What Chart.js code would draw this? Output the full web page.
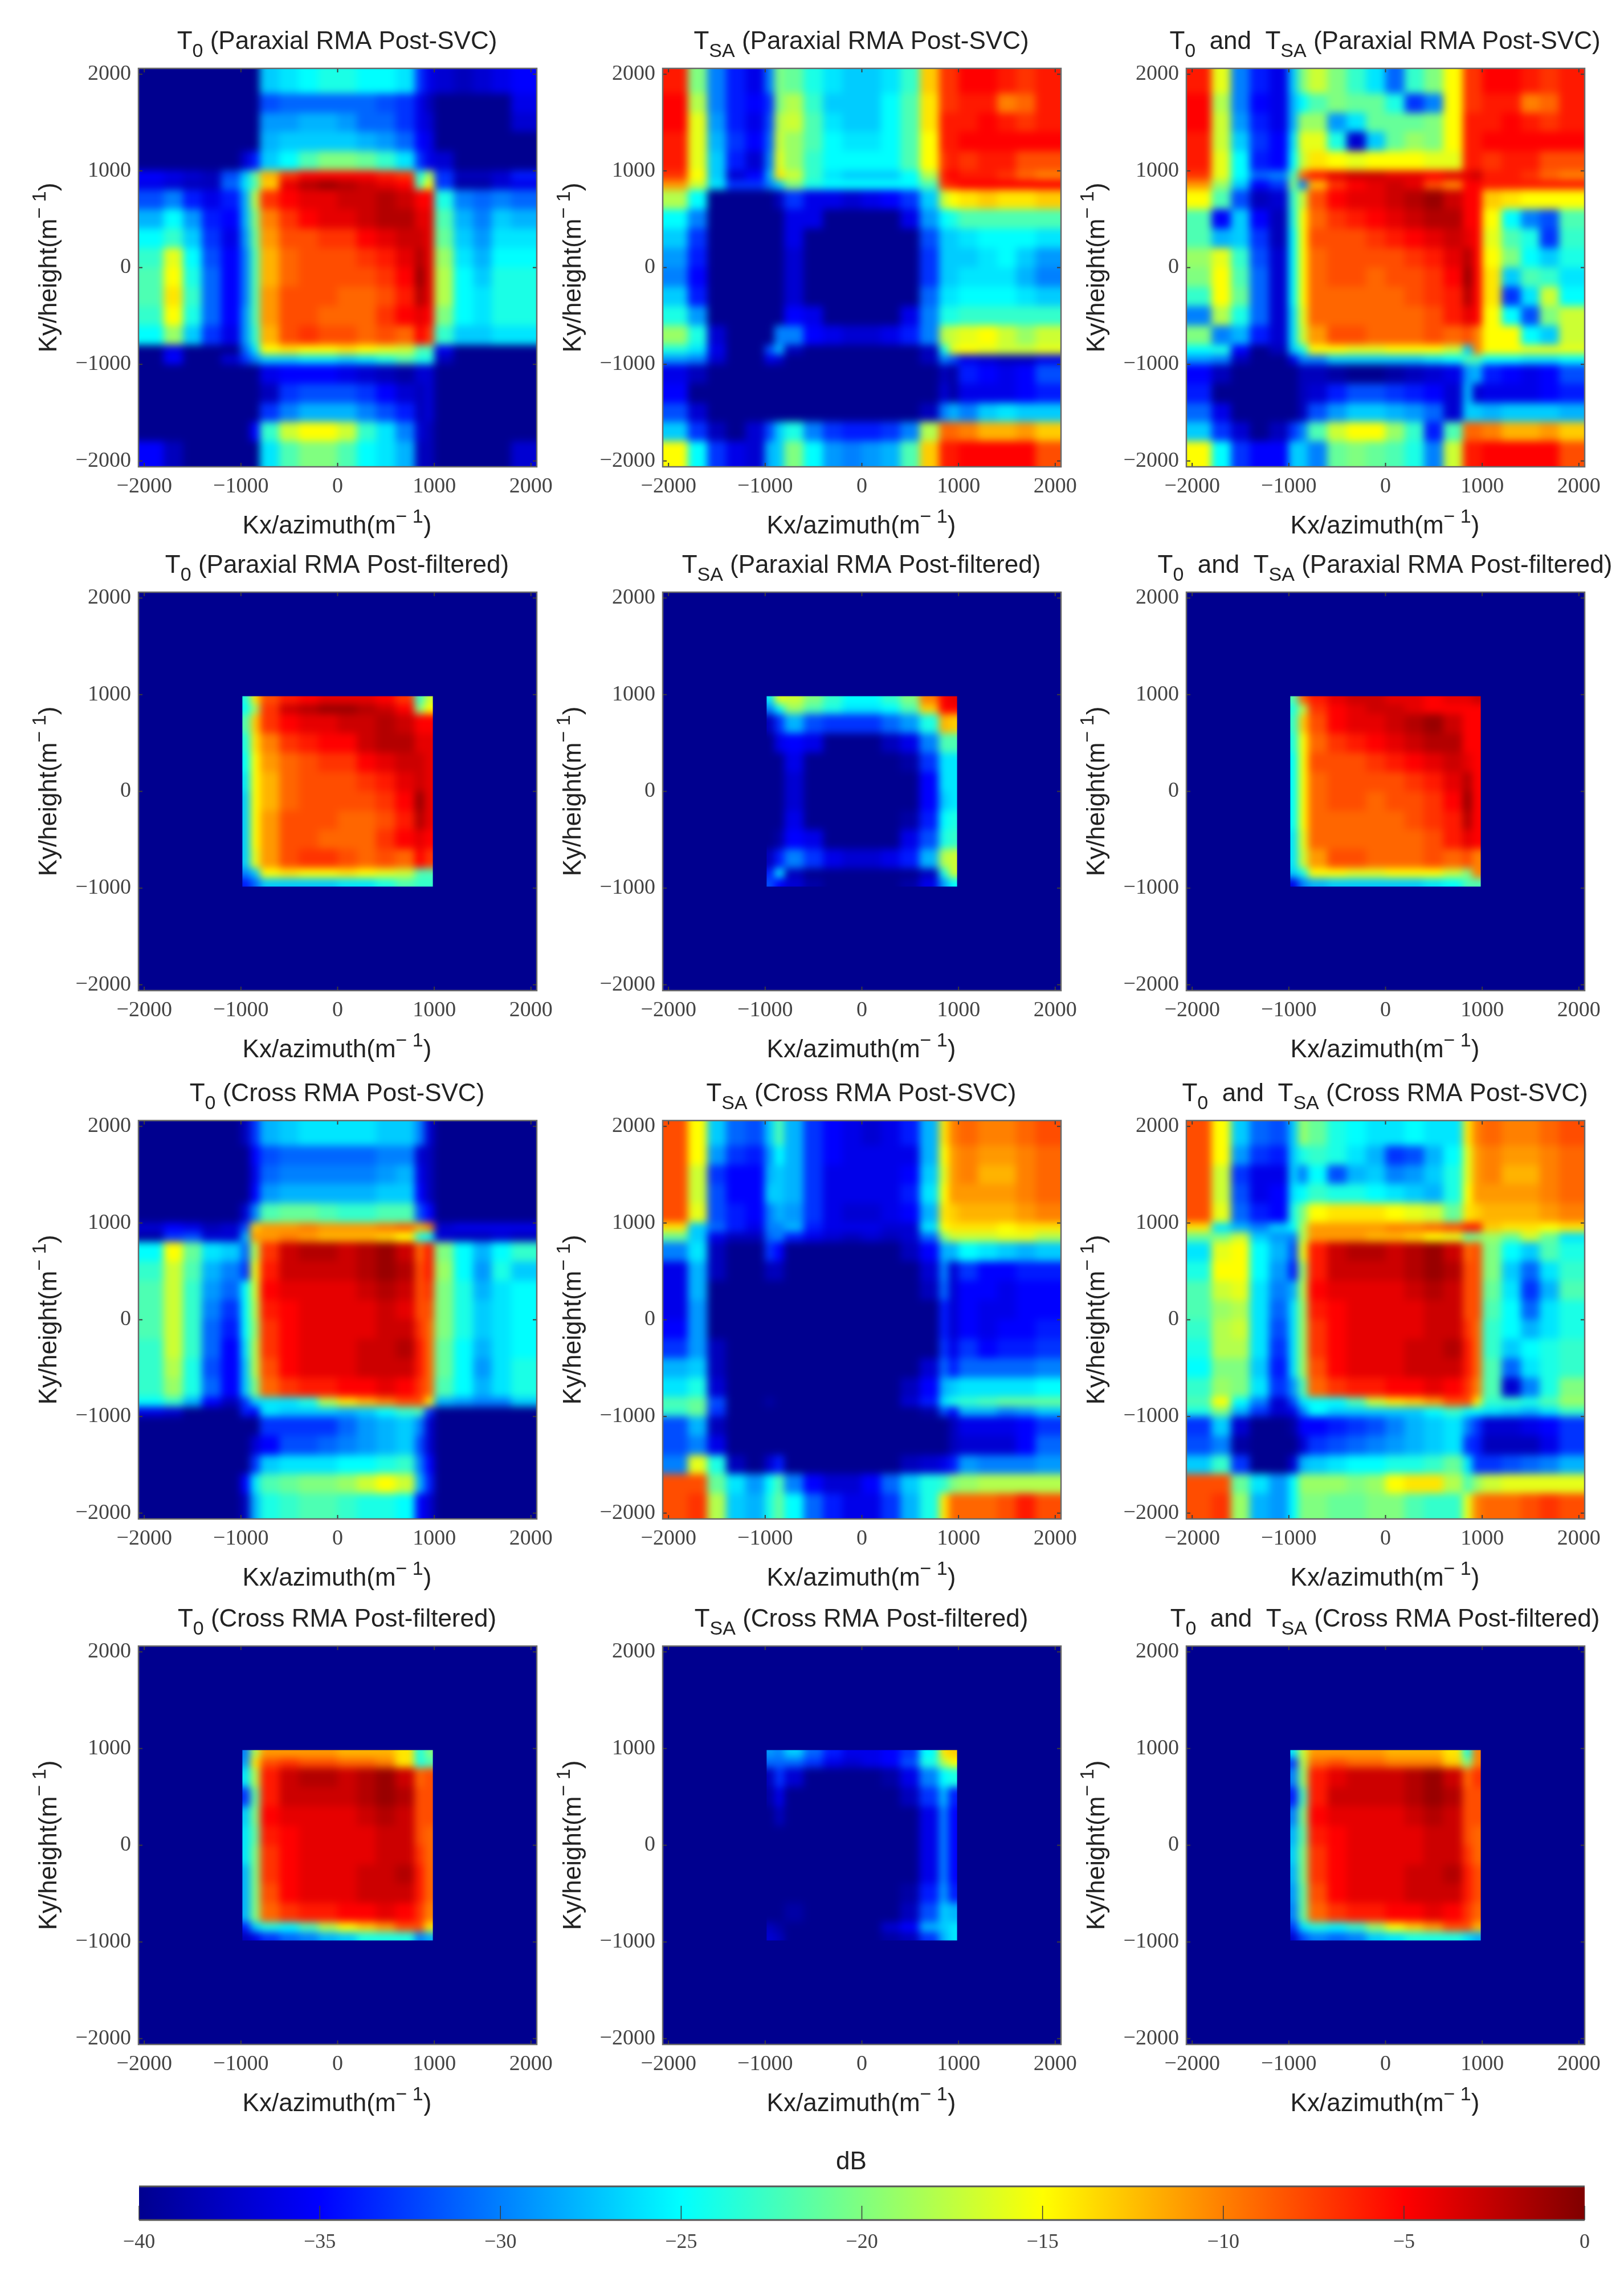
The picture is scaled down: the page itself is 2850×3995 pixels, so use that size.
<!DOCTYPE html>
<html>
<head>
<meta charset="utf-8">
<title>Spectra</title>
<script src="https://cdn.jsdelivr.net/npm/chart.js@4"></script>
<style>
  html, body { margin: 0; padding: 0; background: #fff; }
  body { position: relative; width: 2850px; height: 3995px; overflow: hidden; }
  canvas { position: absolute; }
</style>
</head>
<body>
<script>
const fullEdges = [-2060, -1800, -1600, -1400, -1200, -1000, -900, -800, -600, -400, -200, 0, 200, 400, 600, 800, 900, 1000, 1200, 1400, 1600, 1800, 2060];
const boxEdges = [-985, -900, -800, -600, -400, -200, 0, 200, 400, 600, 800, 900, 985];
const axisTicks = [-2000, -1000, 0, 1000, 2000];
const barTicks = [-40, -35, -30, -25, -20, -15, -10, -5, 0];
const jetLevels = [-40, -35, -25, -15, -5, 0];
const jetColors = ['#00008f', '#0000ff', '#00ffff', '#ffff00', '#ff0000', '#800000'];

// dB below peak, rows run from the top of the panel down
const t0ParaxialSvc = [
  [40,40,40,40,40,40,40,27,26,25,24,24,25,25,26,33,36,37,38,37,36,35],
  [40,40,40,40,40,40,40,32,31,31,31,31,31,32,33,36,38,40,40,40,40,36],
  [40,40,40,40,40,40,40,29,29,28,28,29,31,31,33,36,37,40,40,40,40,37],
  [40,40,40,40,40,40,40,28,27,27,27,27,28,29,31,35,36,40,40,40,40,40],
  [40,40,40,40,40,37,34,27,25,22,20,20,21,23,26,33,36,37,40,40,40,40],
  [35,36,37,38,32,27,21,12,7,5,5,5,5,6,7,24,18,33,38,38,37,34],
  [36,37,38,38,31,26,22,13,4,2,1,2,3,4,5,22,15,33,39,39,37,36],
  [32,30,34,36,34,28,18,7,5,4,4,3,3,2,3,5,5,24,30,31,30,31],
  [28,25,29,34,35,28,20,10,7,5,4,4,3,2,2,4,4,22,28,30,27,28],
  [25,23,27,33,36,29,21,11,8,8,7,7,5,4,3,3,4,21,27,29,26,26],
  [23,16,25,32,35,30,22,12,9,8,8,8,7,6,4,2,4,19,26,28,25,25],
  [22,15,24,31,35,30,22,12,9,8,8,8,8,7,5,1,4,18,25,27,24,24],
  [22,14,23,31,35,30,22,11,8,8,8,9,9,8,6,2,4,18,25,26,24,24],
  [23,15,24,31,35,29,22,11,8,8,9,9,9,7,5,4,5,20,25,26,24,24],
  [25,19,27,33,36,29,23,12,8,7,8,8,9,8,9,5,7,23,27,27,26,26],
  [40,36,40,40,40,31,26,15,14,15,15,14,15,16,17,22,22,36,40,40,40,40],
  [40,35,40,40,37,33,30,27,27,26,26,27,26,24,22,24,24,38,40,40,40,40],
  [40,40,40,40,40,40,40,36,35,35,35,36,37,38,39,37,37,40,40,40,40,40],
  [40,40,40,40,40,40,40,38,33,32,32,32,33,35,37,38,37,40,40,40,40,40],
  [40,40,40,40,40,40,40,33,30,28,28,28,30,32,34,38,37,40,40,40,40,40],
  [40,40,40,40,40,40,35,23,17,15,15,17,23,26,30,37,38,40,40,40,40,40],
  [35,38,40,40,40,40,40,26,22,20,20,22,25,26,28,38,38,40,40,40,40,37]
];
const tsaParaxialSvc = [
  [6,20,30,34,36,30,20,21,24,26,27,27,26,23,13,7,7,5,5,6,7,6],
  [5,18,30,34,35,33,20,18,23,27,27,27,25,22,14,7,7,6,6,10,9,6],
  [5,16,29,34,36,32,18,17,22,26,27,27,25,22,14,6,6,6,5,6,7,6],
  [6,16,28,33,35,31,17,19,22,25,26,26,25,22,15,6,6,5,5,5,5,5],
  [6,16,27,34,37,30,16,19,23,25,25,25,25,22,15,7,6,7,6,6,8,8],
  [7,15,27,37,35,28,14,17,23,26,27,27,27,25,18,6,5,6,6,7,9,10],
  [11,17,26,33,33,30,27,20,24,25,25,25,25,25,22,7,6,5,5,5,5,5],
  [18,25,40,40,40,40,38,33,36,36,37,36,35,33,27,17,15,14,13,14,14,13],
  [25,30,40,40,40,40,40,36,36,40,40,40,40,36,29,25,24,22,22,22,22,22],
  [27,33,40,40,40,40,40,36,40,40,40,40,40,40,32,27,27,26,25,25,25,26],
  [29,34,40,40,40,40,40,37,40,40,40,40,40,40,33,27,27,27,26,25,27,29],
  [30,35,40,40,40,40,40,37,40,40,40,40,40,40,33,27,27,26,26,26,28,30],
  [27,34,40,40,40,40,40,37,40,40,40,40,40,40,31,26,26,25,25,25,26,27],
  [24,29,40,40,40,40,40,35,36,40,40,40,40,36,30,24,24,23,23,23,23,23],
  [19,24,37,40,40,40,30,30,35,36,37,37,36,34,30,18,17,16,15,17,19,17],
  [24,26,36,40,40,32,28,38,40,40,40,40,40,40,38,24,16,15,16,17,17,16],
  [29,30,37,40,40,36,37,40,40,40,40,40,40,40,38,30,32,36,37,38,38,36],
  [36,38,40,40,40,40,40,40,40,40,40,40,40,40,40,38,39,34,35,36,35,32],
  [35,40,40,40,40,40,40,40,40,40,40,40,40,40,40,37,39,36,36,36,35,34],
  [32,37,40,40,40,40,40,40,40,40,40,40,40,40,38,30,28,30,27,26,27,27],
  [27,33,38,40,37,32,27,24,30,33,34,34,33,30,18,9,9,10,12,12,11,13],
  [15,25,33,36,37,28,27,20,25,29,30,29,28,22,13,6,6,5,5,5,5,8]
];
const bothParaxialSvc = [
  [6,16,30,34,36,27,20,17,20,23,26,31,23,20,15,7,7,5,5,6,7,6],
  [5,18,30,35,36,28,25,22,20,21,21,24,33,30,15,7,7,6,6,10,9,6],
  [5,17,29,34,36,28,19,19,29,26,21,21,21,20,15,6,6,6,5,6,7,6],
  [6,17,27,33,35,26,16,16,24,37,27,21,19,20,15,6,6,5,5,5,5,5],
  [6,16,25,34,35,25,17,14,15,16,15,15,15,16,16,6,6,7,6,6,8,8],
  [7,16,25,31,30,22,9,6,4,3,3,4,4,5,4,4,3,6,6,7,9,10],
  [11,19,27,35,33,20,30,12,7,5,4,3,4,8,10,5,5,6,6,6,6,6],
  [15,22,32,38,37,23,17,8,5,4,4,3,2,1,3,5,5,13,14,15,15,15],
  [22,35,27,35,38,24,15,9,7,6,5,4,3,2,2,5,5,15,25,30,32,22],
  [22,28,27,33,38,25,15,8,8,8,7,6,5,4,3,4,5,16,22,24,33,23],
  [19,16,23,32,37,25,15,9,8,8,8,8,7,6,4,2,5,15,20,25,27,24],
  [20,15,22,31,37,25,15,9,8,8,9,8,8,7,5,1,5,14,27,22,23,26],
  [23,15,21,31,37,25,15,9,9,9,9,9,8,7,6,2,5,14,33,26,17,25],
  [30,18,24,31,37,26,16,9,9,9,9,9,9,8,6,4,5,15,25,32,20,17],
  [20,30,28,34,37,26,17,11,8,8,9,9,9,8,9,8,10,15,15,25,27,17],
  [25,24,35,40,38,27,24,15,15,16,16,15,15,15,17,27,10,15,15,16,16,16],
  [29,30,38,40,40,36,30,30,27,27,27,27,27,26,25,22,22,25,25,26,26,25],
  [35,38,40,40,40,40,38,38,39,40,40,39,38,37,36,29,28,34,35,36,35,32],
  [34,40,40,40,40,40,38,37,34,32,32,33,34,35,37,28,37,36,36,36,35,34],
  [31,36,40,40,40,40,38,32,29,27,27,28,29,31,37,27,27,28,27,27,27,28],
  [27,33,37,40,38,33,30,22,17,15,15,19,23,34,22,9,9,10,12,12,11,13],
  [15,25,33,35,35,27,27,30,21,20,21,22,24,30,17,6,6,5,5,5,5,8]
];
const t0CrossSvc = [
  [40,40,40,40,40,38,33,28,27,26,26,26,26,27,27,30,37,40,40,40,40,40],
  [40,40,40,40,40,40,35,32,31,31,31,31,31,30,30,37,38,40,40,40,40,40],
  [40,40,40,40,40,40,36,31,30,30,30,30,30,29,28,36,38,40,40,40,40,40],
  [40,40,40,40,40,40,35,29,28,28,28,28,28,27,27,35,38,40,40,40,40,40],
  [40,40,40,40,40,37,30,22,21,21,22,23,23,22,22,32,35,40,40,40,40,40],
  [37,35,36,38,37,32,13,11,11,10,11,11,11,10,9,12,10,37,36,36,36,36],
  [39,33,32,37,37,28,11,11,10,11,12,12,12,13,15,24,25,37,38,38,37,38],
  [25,15,21,26,27,31,18,7,3,2,2,3,2,1,3,9,6,20,25,28,25,23],
  [23,17,22,28,30,33,16,6,3,3,3,3,2,1,2,8,6,19,25,29,24,27],
  [22,17,23,29,31,25,17,5,4,4,4,4,3,2,3,8,7,20,24,28,26,25],
  [22,17,23,30,33,25,18,6,5,4,4,4,4,3,4,8,8,20,24,27,26,25],
  [22,17,23,31,34,25,19,7,5,4,4,4,4,3,3,7,9,20,24,27,26,25],
  [23,17,23,31,35,26,18,7,5,4,4,4,3,3,2,6,9,21,25,28,26,25],
  [23,18,24,32,35,27,18,8,5,4,4,4,3,3,3,6,9,21,25,29,26,24],
  [23,19,24,31,35,27,20,9,7,6,6,5,5,4,5,7,9,22,25,28,26,24],
  [25,23,28,35,38,33,27,26,26,24,18,14,12,10,8,8,14,28,29,30,30,27],
  [36,37,40,40,40,34,35,26,27,27,27,28,27,25,23,22,33,40,40,40,40,40],
  [40,40,40,40,40,40,40,33,33,33,33,31,29,28,27,30,37,40,40,40,40,40],
  [40,40,40,40,40,40,37,35,32,32,31,30,29,28,27,32,37,40,40,40,40,40],
  [40,40,40,40,40,40,33,27,26,26,26,25,25,24,23,30,35,40,40,40,40,40],
  [40,40,40,40,40,35,26,22,21,20,20,19,17,15,17,28,34,40,40,40,40,40],
  [40,40,40,40,40,38,28,24,23,22,22,23,24,24,25,35,37,40,40,40,40,40]
];
const tsaCrossSvc = [
  [8,15,27,31,32,27,22,28,33,35,36,37,36,34,28,14,10,9,10,10,9,8],
  [8,15,29,33,34,29,25,28,33,35,36,36,36,36,28,15,11,10,11,11,10,9],
  [8,17,33,35,35,28,27,28,33,36,36,36,36,35,27,16,11,10,12,12,10,9],
  [8,17,32,35,35,27,27,28,33,36,36,36,36,34,26,15,11,11,11,11,10,9],
  [8,16,32,34,35,30,28,29,33,36,37,37,36,35,28,14,13,12,12,12,11,10],
  [14,27,31,34,36,30,30,28,34,36,36,36,37,37,26,15,14,14,14,15,14,14],
  [21,27,36,38,38,31,30,34,36,37,38,37,38,37,31,20,17,17,17,16,16,18],
  [30,26,38,40,40,33,35,40,40,40,40,40,40,38,35,28,28,25,26,27,28,27],
  [36,28,38,40,40,38,38,40,40,40,40,40,40,40,37,30,37,33,35,35,34,34],
  [36,28,40,40,40,40,40,40,40,40,40,40,40,40,38,31,37,35,35,36,35,35],
  [36,29,40,40,40,40,40,40,40,40,40,40,40,40,40,34,37,35,36,36,35,35],
  [35,29,40,40,40,40,40,40,40,40,40,40,40,40,40,34,37,35,36,35,35,34],
  [33,29,38,40,40,40,40,40,40,40,40,40,40,40,40,33,36,33,35,34,34,33],
  [28,27,38,40,40,40,40,40,40,40,40,40,40,40,37,31,34,31,31,31,31,30],
  [26,24,37,40,40,40,40,40,40,40,40,40,40,38,35,28,27,26,26,26,26,25],
  [22,21,32,40,40,39,40,40,40,40,40,40,40,37,34,26,24,23,22,21,21,21],
  [23,21,33,40,40,40,40,40,40,40,40,40,40,40,39,32,35,28,28,30,29,27],
  [32,28,38,40,40,40,40,40,40,40,40,40,40,40,40,40,38,36,36,36,35,33],
  [32,30,36,40,40,40,40,40,40,40,40,40,40,40,40,40,38,37,37,37,35,31],
  [30,16,24,38,40,37,34,40,40,40,40,40,40,38,37,36,34,29,30,30,30,29],
  [8,8,21,26,29,25,22,30,35,37,37,35,31,27,24,23,20,19,18,18,18,18],
  [8,7,18,27,28,24,21,25,31,34,36,36,33,28,24,14,9,9,9,8,6,8]
];
const bothCrossSvc = [
  [8,15,27,31,32,27,19,21,24,25,26,26,25,26,26,14,10,9,10,10,9,8],
  [8,15,29,33,34,27,24,23,24,26,28,33,32,28,25,16,11,10,11,11,10,9],
  [8,17,33,36,36,27,30,25,32,28,27,30,29,27,24,16,11,10,12,12,10,9],
  [8,17,32,36,35,26,25,23,24,24,25,26,27,28,24,15,11,11,11,11,10,9],
  [8,16,31,34,35,24,20,15,14,14,14,15,16,17,21,14,13,12,12,12,11,10],
  [14,26,28,30,27,25,18,11,11,11,11,10,10,9,8,6,6,13,14,14,15,14],
  [21,20,17,27,29,30,18,11,11,11,12,12,13,15,16,21,20,19,21,17,21,26],
  [26,16,15,25,28,32,16,6,3,2,2,3,2,1,3,9,8,20,25,27,22,24],
  [24,15,15,25,29,34,19,6,3,3,3,3,2,1,2,8,8,20,27,31,26,23],
  [22,17,16,26,30,28,18,5,4,4,4,4,3,2,3,8,8,21,26,33,28,22],
  [22,19,18,26,31,26,19,6,5,4,4,4,4,3,3,8,8,22,25,31,26,24],
  [23,18,17,26,32,26,19,7,5,4,4,4,4,3,3,7,9,23,25,28,26,24],
  [24,18,18,26,33,26,19,7,5,4,4,4,3,3,2,6,9,23,27,25,24,23],
  [25,20,20,27,34,26,19,8,5,4,4,4,3,3,3,6,9,22,31,26,24,23],
  [23,19,20,26,33,29,22,9,7,6,6,5,5,4,5,7,10,22,37,30,24,20],
  [22,15,25,30,37,32,26,25,25,22,17,14,13,11,8,8,14,23,23,24,22,19],
  [24,20,28,33,37,36,30,25,27,27,27,27,27,25,23,25,25,26,27,28,26,23],
  [33,27,37,40,40,39,35,35,34,33,32,30,28,27,26,30,33,37,37,36,35,33],
  [32,30,39,40,40,40,37,33,32,31,30,29,28,27,26,33,34,38,38,38,36,33],
  [27,23,33,40,40,37,28,27,26,25,25,24,24,23,21,26,33,33,32,31,30,28],
  [8,8,21,26,29,25,19,19,19,20,19,15,14,14,18,22,19,17,16,16,16,16],
  [8,7,19,28,29,25,20,20,21,21,20,20,22,23,23,16,10,9,9,8,7,8]
];

const t0ParaxialFiltered = [
  [24,14,8,6,5,4,4,4,5,7,23,17],
  [25,19,7,3,2,1,1,2,3,5,20,15],
  [22,13,7,5,4,4,3,3,2,3,5,5],
  [24,14,10,7,6,5,5,3,2,2,4,4],
  [25,15,11,9,8,7,7,5,4,3,3,4],
  [26,15,12,9,8,8,8,7,6,4,3,4],
  [27,15,12,9,8,8,8,8,7,5,1,4],
  [27,15,11,8,8,8,9,9,8,6,2,4],
  [27,15,11,8,8,9,9,9,7,5,4,5],
  [27,16,11,8,7,7,8,9,8,9,5,7],
  [30,27,15,14,15,15,14,15,16,17,22,22],
  [34,31,27,27,27,27,26,26,24,22,23,23]
];
const tsaParaxialFiltered = [
  [26,16,17,20,23,25,25,23,20,10,5,4],
  [30,25,19,22,24,26,26,25,22,13,5,5],
  [38,33,28,32,33,33,33,31,29,24,12,13],
  [40,36,35,36,40,40,40,38,36,30,22,22],
  [40,40,36,40,40,40,40,40,39,33,26,26],
  [40,40,37,40,40,40,40,40,40,35,26,26],
  [40,40,37,40,40,40,40,40,40,35,27,26],
  [40,40,36,40,40,40,40,40,39,34,25,24],
  [40,39,35,36,40,40,40,40,36,32,24,23],
  [38,34,30,33,36,37,37,36,34,28,18,17],
  [34,26,38,40,40,40,40,40,40,38,24,17],
  [32,35,37,39,40,40,40,40,39,36,29,25]
];
const bothParaxialFiltered = [
  [22,9,6,4,3,3,4,4,5,4,4,3],
  [24,18,7,5,4,3,3,4,5,5,5,5],
  [23,13,8,5,4,4,3,2,1,3,5,5],
  [24,15,9,7,6,5,4,3,2,2,5,5],
  [25,15,8,8,8,7,6,5,4,3,4,5],
  [25,15,9,8,8,8,8,7,6,4,2,5],
  [25,15,9,8,8,9,8,8,7,5,1,5],
  [25,15,9,9,9,9,9,8,7,6,2,5],
  [26,16,9,9,9,9,9,9,8,6,4,5],
  [26,17,11,8,8,9,9,9,8,9,8,10],
  [27,24,15,15,16,16,15,15,15,17,20,10],
  [36,30,28,27,27,27,27,27,26,25,22,22]
];
const t0CrossFiltered = [
  [30,18,11,11,11,11,12,12,12,14,24,20],
  [29,14,8,7,8,8,9,9,10,14,24,22],
  [26,18,6,3,2,2,3,2,1,3,9,8],
  [33,21,6,3,3,3,3,2,1,2,8,8],
  [27,20,5,4,4,4,4,3,2,3,8,8],
  [26,21,6,5,4,4,4,4,3,3,8,9],
  [26,20,7,5,4,4,4,4,3,3,7,9],
  [28,20,7,5,4,4,4,3,3,2,6,9],
  [28,20,8,5,4,4,4,3,3,3,6,9],
  [28,20,9,7,6,6,5,5,4,5,7,10],
  [34,27,24,25,22,18,15,13,11,8,8,14],
  [38,36,33,31,30,28,27,24,24,24,30,28]
];
const tsaCrossFiltered = [
  [29,30,27,31,34,36,36,35,33,25,14,13],
  [31,31,31,33,36,37,36,35,32,24,18,15],
  [38,33,37,40,40,40,40,39,36,30,25,24],
  [39,36,40,40,40,40,40,40,38,33,28,34],
  [40,38,40,40,40,40,40,40,40,36,30,35],
  [40,40,40,40,40,40,40,40,40,36,30,35],
  [40,40,40,40,40,40,40,40,40,36,30,35],
  [40,40,40,40,40,40,40,40,40,36,30,35],
  [40,40,40,40,40,40,40,40,39,34,29,34],
  [40,40,39,40,40,40,40,40,38,32,27,28],
  [38,39,40,40,40,40,40,37,35,28,27,26],
  [37,38,40,40,40,40,40,39,38,33,28,26]
];
const bothCrossFiltered = [
  [26,17,11,11,11,11,12,12,12,14,24,10],
  [33,18,9,8,9,9,10,10,10,13,20,10],
  [30,19,6,4,3,3,3,2,1,3,9,7],
  [34,22,6,3,3,3,3,2,1,2,8,8],
  [30,20,5,4,4,4,4,3,2,3,8,8],
  [28,21,6,5,4,4,4,4,3,3,8,9],
  [27,20,7,5,4,4,4,4,3,3,7,9],
  [28,20,7,5,4,4,4,3,3,2,6,8],
  [29,21,8,5,4,4,4,3,3,3,6,8],
  [30,21,9,7,6,6,5,5,4,5,7,9],
  [33,26,24,25,23,19,15,13,11,8,8,12],
  [37,32,30,31,30,27,26,24,24,24,26,28]
];

const T0 = [['T'], ['0', 'sub']];
const TSA = [['T'], ['SA', 'sub']];
const BOTH = [['T'], ['0', 'sub'], ['  and  T'], ['SA', 'sub']];

const panels = [
  { col: 0, row: 0, head: T0, tail: ' (Paraxial RMA Post-SVC)', rows: t0ParaxialSvc, edges: fullEdges },
  { col: 1, row: 0, head: TSA, tail: ' (Paraxial RMA Post-SVC)', rows: tsaParaxialSvc, edges: fullEdges },
  { col: 2, row: 0, head: BOTH, tail: ' (Paraxial RMA Post-SVC)', rows: bothParaxialSvc, edges: fullEdges },
  { col: 0, row: 1, head: T0, tail: ' (Paraxial RMA Post-filtered)', rows: t0ParaxialFiltered, edges: boxEdges },
  { col: 1, row: 1, head: TSA, tail: ' (Paraxial RMA Post-filtered)', rows: tsaParaxialFiltered, edges: boxEdges },
  { col: 2, row: 1, head: BOTH, tail: ' (Paraxial RMA Post-filtered)', rows: bothParaxialFiltered, edges: boxEdges },
  { col: 0, row: 2, head: T0, tail: ' (Cross RMA Post-SVC)', rows: t0CrossSvc, edges: fullEdges },
  { col: 1, row: 2, head: TSA, tail: ' (Cross RMA Post-SVC)', rows: tsaCrossSvc, edges: fullEdges },
  { col: 2, row: 2, head: BOTH, tail: ' (Cross RMA Post-SVC)', rows: bothCrossSvc, edges: fullEdges },
  { col: 0, row: 3, head: T0, tail: ' (Cross RMA Post-filtered)', rows: t0CrossFiltered, edges: boxEdges },
  { col: 1, row: 3, head: TSA, tail: ' (Cross RMA Post-filtered)', rows: tsaCrossFiltered, edges: boxEdges },
  { col: 2, row: 3, head: BOTH, tail: ' (Cross RMA Post-filtered)', rows: bothCrossFiltered, edges: boxEdges }
];

// page layout
const plotLefts = [243, 1163, 2082];
const plotTops = [120, 1039, 1966, 2888];
const plotSize = 699;
const padL = 230, padR = 60, padT = 90, padB = 125;
const plotBg = '#00008f';
const tickInk = '#444444';
const sansFont = '"Liberation Sans", Arial, sans-serif';
const serifFont = '"Liberation Serif", "Times New Roman", serif';

function jetColor(v) {
  let i = 0;
  while (i < jetLevels.length - 2 && v > jetLevels[i + 1]) i++;
  const t = Math.min(1, Math.max(0, (v - jetLevels[i]) / (jetLevels[i + 1] - jetLevels[i])));
  const a = parseInt(jetColors[i].slice(1), 16), b = parseInt(jetColors[i + 1].slice(1), 16);
  const ch = s => Math.round(((a >> s) & 255) * (1 - t) + ((b >> s) & 255) * t);
  return 'rgb(' + ch(16) + ',' + ch(8) + ',' + ch(0) + ')';
}

function cellsFrom(rows, edges) {
  const cells = [];
  const n = edges.length - 1;
  rows.forEach((row, r) => {
    row.forEach((depth, c) => {
      const y0 = edges[n - r - 1], y1 = edges[n - r];
      cells.push({ x: (edges[c] + edges[c + 1]) / 2, y: (y0 + y1) / 2, x0: edges[c], x1: edges[c + 1], y0, y1, v: -depth });
    });
  });
  return cells;
}

// text in runs, so the sub and superscripts stay real text
function richText(ctx, parts, cx, cy, size, rotate) {
  ctx.save();
  ctx.translate(cx, cy);
  if (rotate) ctx.rotate(-Math.PI / 2);
  ctx.fillStyle = '#222222';
  ctx.textBaseline = 'alphabetic';
  ctx.textAlign = 'left';
  const fontFor = k => (k ? Math.round(size * 0.78) : size) + 'px ' + sansFont;
  let total = 0;
  parts.forEach(p => { ctx.font = fontFor(p[1]); total += ctx.measureText(p[0]).width; });
  let x = -total / 2;
  parts.forEach(p => {
    ctx.font = fontFor(p[1]);
    const dy = p[1] === 'sub' ? size * 0.32 : p[1] === 'sup' ? -size * 0.42 : 0;
    ctx.fillText(p[0], x, size * 0.36 + dy);
    x += ctx.measureText(p[0]).width;
  });
  ctx.restore();
}

const heatPlugin = {
  id: 'heat',
  beforeDatasetsDraw(chart) {
    const { ctx, chartArea: a, scales: { x, y } } = chart;
    const blur = 7;
    ctx.save();
    ctx.fillStyle = plotBg;
    ctx.fillRect(a.left, a.top, a.width, a.height);
    const cells = chart.data.datasets[0].data;
    const lo = Math.min(...cells.map(c => c.x0)), hi = Math.max(...cells.map(c => c.x1));
    const L = x.getPixelForValue(lo), R = x.getPixelForValue(hi);
    const T = y.getPixelForValue(hi), B = y.getPixelForValue(lo);
    // paint on the side, run past the outer edge so the blur stays opaque there
    const pad = 30;
    const off = document.createElement('canvas');
    off.width = Math.ceil(R - L) + pad * 2;
    off.height = Math.ceil(B - T) + pad * 2;
    const o = off.getContext('2d');
    cells.forEach(c => {
      let px0 = x.getPixelForValue(c.x0) - L + pad, px1 = x.getPixelForValue(c.x1) - L + pad;
      let py0 = y.getPixelForValue(c.y1) - T + pad, py1 = y.getPixelForValue(c.y0) - T + pad;
      if (c.x0 === lo) px0 = 0;
      if (c.x1 === hi) px1 = off.width;
      if (c.y1 === hi) py0 = 0;
      if (c.y0 === lo) py1 = off.height;
      o.fillStyle = jetColor(c.v);
      o.fillRect(Math.floor(px0), Math.floor(py0), Math.ceil(px1 - px0) + 1, Math.ceil(py1 - py0) + 1);
    });
    ctx.beginPath();
    ctx.rect(L, T, R - L, B - T);
    ctx.clip();
    ctx.filter = 'blur(' + blur + 'px)';
    ctx.drawImage(off, L - pad, T - pad);
    ctx.restore();
  },
  afterDatasetsDraw(chart) {
    const { ctx, chartArea: a, scales: { x, y } } = chart;
    const tick = 7;
    ctx.save();
    ctx.strokeStyle = '#3c3c3c';
    ctx.lineWidth = 2;
    ctx.beginPath();
    axisTicks.forEach(t => {
      const px = x.getPixelForValue(t), py = y.getPixelForValue(t);
      ctx.moveTo(px, a.top); ctx.lineTo(px, a.top + tick);
      ctx.moveTo(px, a.bottom); ctx.lineTo(px, a.bottom - tick);
      ctx.moveTo(a.left, py); ctx.lineTo(a.left + tick, py);
      ctx.moveTo(a.right, py); ctx.lineTo(a.right - tick, py);
    });
    ctx.stroke();
    ctx.strokeStyle = '#6a6a6a';
    ctx.lineWidth = 2.5;
    ctx.strokeRect(a.left, a.top, a.width, a.height);
    ctx.restore();
  },
  afterDraw(chart) {
    const { ctx, chartArea: a } = chart;
    const opt = chart.options.plugins.heat;
    const cx = (a.left + a.right) / 2, cy = (a.top + a.bottom) / 2;
    richText(ctx, opt.head.concat([[opt.tail]]), cx - 1, a.top - 50, 44);
    richText(ctx, [['Kx/azimuth(m'], ['\u2212 1', 'sup'], [')']], cx - 1, a.bottom + 101, 44);
    richText(ctx, [['Ky/height(m'], ['\u2212 1', 'sup'], [')']], a.left - 160, cy, 44, true);
  }
};

function minusLabel(v) {
  return v < 0 ? '\u2212' + Math.abs(v) : String(v);
}

function addCanvas(left, top, width, height) {
  const c = document.createElement('canvas');
  c.width = width;
  c.height = height;
  c.style.left = left + 'px';
  c.style.top = top + 'px';
  c.style.width = width + 'px';
  c.style.height = height + 'px';
  document.body.appendChild(c);
  return c;
}

function axisOptions(position, sideSize) {
  return {
    type: 'linear',
    position,
    min: -2060,
    max: 2060,
    grid: { display: false, drawTicks: false },
    border: { display: false },
    afterBuildTicks: s => { s.ticks = axisTicks.map(value => ({ value })); },
    afterFit: s => { if (position === 'left') s.width = sideSize; else s.height = sideSize; },
    ticks: {
      autoSkip: false,
      maxRotation: 0,
      padding: position === 'left' ? 13 : 12,
      color: tickInk,
      font: { family: serifFont, size: 38 },
      callback: minusLabel
    }
  };
}

panels.forEach(p => {
  const left = plotLefts[p.col], top = plotTops[p.row];
  const canvas = addCanvas(left - padL, top - padT, padL + plotSize + padR, padT + plotSize + padB);
  new Chart(canvas.getContext('2d'), {
    type: 'scatter',
    data: { datasets: [{ label: p.tail.trim(), data: cellsFrom(p.rows, p.edges), pointRadius: 0 }] },
    options: {
      responsive: false,
      animation: false,
      devicePixelRatio: 1,
      layout: { padding: { top: padT, right: padR, bottom: 0, left: 0 } },
      scales: { x: axisOptions('bottom', padB), y: axisOptions('left', padL) },
      plugins: { legend: { display: false }, tooltip: { enabled: false }, heat: { head: p.head, tail: p.tail } }
    },
    plugins: [heatPlugin]
  });
});

// colour bar along the bottom
const barPlugin = {
  id: 'colourBar',
  beforeDatasetsDraw(chart) {
    const { ctx, chartArea: a, scales: { x } } = chart;
    const grad = ctx.createLinearGradient(x.getPixelForValue(-40), 0, x.getPixelForValue(0), 0);
    jetLevels.forEach((lv, i) => grad.addColorStop((lv + 40) / 40, jetColors[i]));
    ctx.save();
    ctx.fillStyle = grad;
    ctx.fillRect(a.left, a.top, a.width, a.height);
    ctx.strokeStyle = '#3c3c3c';
    ctx.lineWidth = 1.5;
    ctx.beginPath();
    barTicks.forEach(t => {
      const px = x.getPixelForValue(t);
      ctx.moveTo(px, a.bottom);
      ctx.lineTo(px, a.bottom - 25);
    });
    ctx.stroke();
    ctx.strokeStyle = '#555555';
    ctx.lineWidth = 3;
    ctx.beginPath();
    ctx.moveTo(a.left, a.top); ctx.lineTo(a.right, a.top);
    ctx.moveTo(a.left, a.bottom); ctx.lineTo(a.right, a.bottom);
    ctx.stroke();
    ctx.restore();
  },
  afterDraw(chart) {
    richText(chart.ctx, [['dB']], 1491 - 150 + 3, 3791 - 3740 - 1, 44);
  }
};

const barCanvas = addCanvas(150, 3740, 2700, 255);
new Chart(barCanvas.getContext('2d'), {
  type: 'scatter',
  data: { datasets: [{ label: 'dB', data: [], pointRadius: 0 }] },
  options: {
    responsive: false,
    animation: false,
    devicePixelRatio: 1,
    layout: { padding: { top: 96, right: 69, bottom: 0, left: 94 } },
    scales: {
      x: {
        type: 'linear',
        min: -40,
        max: 0,
        grid: { display: false, drawTicks: false },
        border: { display: false },
        afterBuildTicks: s => { s.ticks = barTicks.map(value => ({ value })); },
        afterFit: s => { s.height = 100; },
        ticks: { autoSkip: false, maxRotation: 0, padding: 18, color: tickInk, font: { family: serifFont, size: 36 }, callback: minusLabel }
      },
      y: { display: false, min: 0, max: 1 }
    },
    plugins: { legend: { display: false }, tooltip: { enabled: false } }
  },
  plugins: [barPlugin]
});
</script>
</body>
</html>
